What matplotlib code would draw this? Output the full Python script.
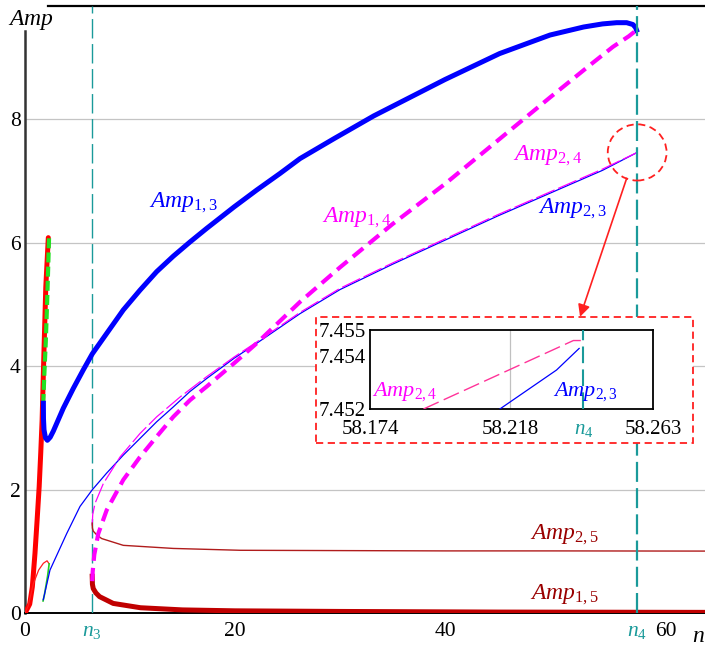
import numpy as np
import matplotlib
matplotlib.use('Agg')
import matplotlib.pyplot as plt
from matplotlib.patches import Ellipse, Rectangle

plt.rcParams['font.family'] = ['Liberation Serif', 'DejaVu Serif']
plt.rcParams['mathtext.fontset'] = 'custom'
plt.rcParams['mathtext.it'] = 'Liberation Serif:italic'
plt.rcParams['mathtext.rm'] = 'Liberation Serif'

n3 = 6.4
n4 = 58.241

# branch near n = 0
red_n = [0, 0.45, 0.7, 0.95, 1.15, 1.35, 1.5, 1.63, 1.8, 1.98, 2.22]
red_amp = [0, 0.15, 0.43, 0.97, 1.5, 2.05, 2.6, 3.13, 4.2, 5.28, 6.08]
green_n = [2.29, 2.12, 1.98, 1.85, 1.74]
green_amp = [6.07, 5.1, 4.4, 3.9, 3.42]
red_small_n = [0, 0.3, 0.8, 1.3, 1.75, 2.1, 2.3]
red_small_amp = [0, 0.12, 0.48, 0.7, 0.81, 0.85, 0.8]
green_small_n = [2.3, 2.15, 2.0, 1.85, 1.72]
green_small_amp = [0.8, 0.6, 0.45, 0.3, 0.2]

# Amp_1,3 (thick blue)
amp13_n = [1.75, 1.76, 1.81, 1.95, 2.13, 2.4, 2.7, 3.65, 4.6, 5.55, 6.41, 7.78, 9.36,
           10.95, 12.54, 14.12, 15.71, 17.3, 19.93, 22.06, 24.29, 26.19, 29.4, 33.2,
           40, 45.2, 50, 53.2, 55, 56.35, 57.3, 57.9, 58.15, n4]
amp13 = [3.40, 3.15, 2.97, 2.84, 2.80, 2.85, 2.95, 3.32, 3.64, 3.94, 4.20, 4.53, 4.91,
         5.23, 5.53, 5.78, 6.01, 6.23, 6.58, 6.85, 7.12, 7.36, 7.68, 8.05,
         8.64, 9.06, 9.36, 9.49, 9.54, 9.56, 9.56, 9.53, 9.48, 9.44]

# Amp_1,4 (thick magenta dashed)
amp14_n = [n3, 6.45, 6.6, 6.98, 7.78, 9.36, 10.95, 12.54, 14.12, 15.71, 17.3, 19.93,
           22.06, 26.19, 30, 35, 40, 45, 50, 54, 56, 57.5, n4]
amp14 = [0.52, 0.68, 0.95, 1.29, 1.67, 2.16, 2.53, 2.86, 3.18, 3.45, 3.67, 4.05,
         4.37, 5.04, 5.6, 6.3, 6.95, 7.65, 8.35, 8.9, 9.17, 9.34, 9.44]

# Amp_2,3 (thin blue)
amp23_n = [1.74, 2.38, 3.97, 5.24, 6.41, 7.78, 9.36, 10.95, 12.54, 14.12, 15.71, 17.3,
           19.93, 22.06, 26.19, 30, 35, 40, 45, 50, 55, n4]
amp23 = [0.22, 0.70, 1.29, 1.73, 2.0, 2.27, 2.56, 2.83, 3.10, 3.34, 3.59, 3.80,
         4.13, 4.37, 4.85, 5.24, 5.65, 6.04, 6.43, 6.8, 7.17, 7.4543]

# Amp_2,4 (thin magenta long dash)
amp24_n = [n3, 6.45, 6.67, 7.46, 9.05, 10.95, 12.54, 14.76, 17.3, 19.93, 22.06, 26.19,
           30, 35, 40, 45, 50, 55, n4]
amp24 = [1.42, 1.6, 1.78, 2.10, 2.53, 2.91, 3.18, 3.50, 3.83, 4.15, 4.39, 4.87,
         5.26, 5.67, 6.06, 6.45, 6.82, 7.19, 7.4546]

# Amp_2,5 (thin dark red) and Amp_1,5 (thick dark red)
amp25_n = [n3, 6.42, 6.5, 6.83, 7.3, 9.36, 14.12, 20.5, 30, 40, 50, 64.8]
amp25 = [1.46, 1.38, 1.33, 1.27, 1.21, 1.10, 1.05, 1.02, 1.015, 1.01, 1.01, 1.007]
amp15_n = [n3, 6.42, 6.5, 6.75, 7.1, 8.4, 11, 15, 20, 30, 45, 64.8]
amp15 = [0.6, 0.47, 0.4, 0.33, 0.27, 0.16, 0.09, 0.055, 0.04, 0.03, 0.02, 0.015]

# zoomed view near n4
zoom24_n = [58.1908, 58.2379, n4]
zoom24 = [7.452, 7.4546, 7.4546]
zoom23_n = [58.2148, 58.2326, 58.2397]
zoom23 = [7.452, 7.45348, 7.4543]

blue = '#0000ff'
mag = '#ff00ff'
teal = '#1a9a9a'
dred = '#9a0000'

fig = plt.figure(figsize=(7.05, 6.48), dpi=100)
ax = fig.add_axes([25 / 705, (648 - 613.3) / 648, 680 / 705, 607.3 / 648])
ax.set_xlim(0, 64.76)
ax.set_ylim(0, 9.83)

ax.plot(red_n, red_amp, color='#ff0000', lw=3.6, solid_capstyle='round', zorder=4)
ax.plot(green_n, green_amp, color='#22e022', lw=3.0, dashes=(2.4, 1.0), zorder=5)
ax.plot(red_small_n, red_small_amp, color='#ff2020', lw=0.9, zorder=4)
ax.plot(green_small_n, green_small_amp, color='#22d022', lw=1.2, zorder=4)
ax.plot(amp13_n, amp13, color=blue, lw=3.6, zorder=5)
ax.plot(amp23_n, amp23, color=blue, lw=0.9, zorder=4)
ax.plot(amp24_n, amp24, color=mag, lw=0.9, dashes=(16, 3), zorder=4)
ax.plot(amp14_n, amp14, color=mag, lw=3.0, dashes=(3.2, 1.7), zorder=5)
ax.plot(amp25_n, amp25, color='#b01c1c', lw=1.0, zorder=4)
ax.plot(amp15_n, amp15, color='#c00000', lw=3.6, zorder=4)

ax.axvline(n3, color=teal, lw=1.0, dashes=(14, 4), zorder=3)
ax.axvline(n4, color=teal, lw=1.6, dashes=(9, 2.8), zorder=6)

# labels of the branches
lab = dict(fontsize=17, va='baseline', ha='left')
ax.text(11.8, 6.57, r'$Amp_{1,3}$', color=blue, **lab)
ax.text(28.3, 6.33, r'$Amp_{1,4}$', color=mag, **lab)
ax.text(46.5, 7.33, r'$Amp_{2,4}$', color=mag, **lab)
ax.text(48.9, 6.48, r'$Amp_{2,3}$', color=blue, **lab)
ax.text(48.1, 1.19, r'$Amp_{2,5}$', color=dred, **lab)
ax.text(48.1, 0.22, r'$Amp_{1,5}$', color=dred, **lab)

# axes styling
ax.set_xticks([0, n3, 20, 40, n4, 60])
ax.set_xticklabels(['0', '$n_3$', '20', '40', '$n_4$', '60'], fontsize=15.5)
xl = ax.get_xticklabels()
for i in (1, 4):
    xl[i].set_color(teal)
xl[5].set_horizontalalignment('left')
ax.set_xticks([20, 40], minor=True)
ax.set_yticks([0, 2, 4, 6, 8])
ax.set_yticklabels(['0', '2', '4', '6', '8'], fontsize=15.5)
ax.tick_params(which='both', length=0)
ax.tick_params(axis='x', pad=6)
ax.tick_params(axis='y', pad=3)
ax.grid(axis='y', color='#c4c4c4', lw=0.9)
ax.grid(axis='x', which='minor', color='#c8c8c8', lw=0.9)
ax.set_axisbelow(True)

ax.spines['right'].set_visible(False)
ax.spines['left'].set_bounds(0, 9.43)
ax.spines['left'].set_color('#333333')
ax.spines['left'].set_linewidth(1.8)
ax.spines['top'].set_bounds(2.2, 64.76)
ax.spines['top'].set_linewidth(1.6)
ax.spines['bottom'].set_linewidth(1.4)

fig.text(8 / 705, 1 - 25 / 648, '$Amp$', fontsize=17, ha='left', va='baseline')
ax.text(1.0, -0.048, '$n$', transform=ax.transAxes, fontsize=17, ha='right',
        va='baseline')

# circle around the end point and arrow to the zoomed view
ax.add_patch(Ellipse((58.3, 7.46), 5.6, 0.91, fill=False, ec='#ff2020', lw=1.3,
                     ls=(0, (4, 2.5)), zorder=7))
ax.annotate('', xy=(52.86, 4.8), xytext=(57.3, 7.04),
            arrowprops=dict(arrowstyle='-|>', color='#ff2020', lw=1.2,
                            mutation_scale=18, shrinkA=0, shrinkB=0), zorder=8)

ax.add_patch(Rectangle((316 / 705, 1 - 443.3 / 648), 376.7 / 705, 126 / 648,
                       transform=fig.transFigure, fc='white', ec='#ff2020', lw=1.3,
                       ls=(0, (4, 2.5)), clip_on=False, zorder=9))

ins = fig.add_axes([370 / 705, 1 - 409 / 648, 283.3 / 705, 79 / 648])
ins.set_xlim(58.174, 58.263)
ins.set_ylim(7.452, 7.455)
ins.axvline(58.218, color='#c0c0c0', lw=0.9, zorder=1)
ins.axvline(n4, color=teal, lw=1.5, dashes=(8, 3), zorder=3)
ins.plot(zoom24_n, zoom24, color='#ff3399', lw=1.0, dashes=(12, 4), zorder=4)
ins.plot(zoom23_n, zoom23, color=blue, lw=0.9, zorder=4)
ins.text(58.1745, 7.4525, r'$Amp_{2,4}$', color=mag, fontsize=16, va='baseline')
ins.text(58.2316, 7.4525, r'$Amp_{2,3}$', color=blue, fontsize=16, va='baseline')
ins.set_xticks([58.174, 58.218, n4, 58.263])
ins.set_xticklabels(['58.174', '58.218', '$n_4$', '58.263'], fontsize=15)
ins.get_xticklabels()[2].set_color(teal)
ins.set_yticks([7.452, 7.454, 7.455])
ins.set_yticklabels(['7.452', '7.454', '7.455'], fontsize=15)
ins.tick_params(length=0)
ins.tick_params(axis='x', pad=8)
ins.tick_params(axis='y', pad=3)
for s in ins.spines.values():
    s.set_linewidth(1.3)

fig.savefig('out.png', dpi=100)
